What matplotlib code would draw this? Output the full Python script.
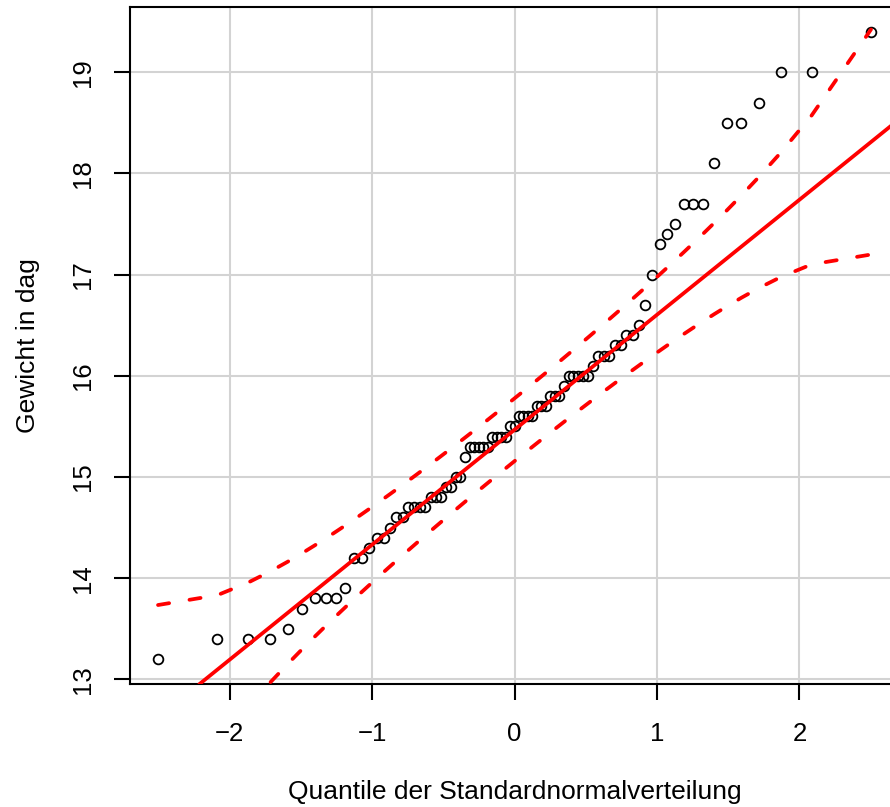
import matplotlib
matplotlib.use('Agg')
import matplotlib.pyplot as plt
import numpy as np
from statistics import NormalDist

plt.rcParams['font.family'] = ['Liberation Sans', 'DejaVu Sans']

# Gewicht in dag, sortiert (81 Werte)
gewicht = [13.2, 13.4, 13.4, 13.4, 13.5, 13.7, 13.8, 13.8, 13.8, 13.9,
           14.2, 14.2, 14.3, 14.4, 14.4, 14.5, 14.6, 14.6,
           14.7, 14.7, 14.7, 14.7, 14.8, 14.8, 14.8, 14.9, 14.9,
           15.0, 15.0, 15.2, 15.3, 15.3, 15.3, 15.3, 15.3,
           15.4, 15.4, 15.4, 15.4, 15.5, 15.5,
           15.6, 15.6, 15.6, 15.6, 15.7, 15.7, 15.7,
           15.8, 15.8, 15.8, 15.9, 16.0, 16.0, 16.0, 16.0, 16.0,
           16.1, 16.2, 16.2, 16.2, 16.3, 16.3, 16.4, 16.4,
           16.5, 16.7, 17.0, 17.3, 17.4, 17.5, 17.7, 17.7, 17.7,
           18.1, 18.5, 18.5, 18.7, 19.0, 19.0, 19.4]
xticks = [-2, -1, 0, 1, 2]
yticks = [13, 14, 15, 16, 17, 18, 19]
konf = 0.95

nd = NormalDist()
y = np.sort(np.array(gewicht))
n = len(y)
P = (np.arange(1, n + 1) - 0.5) / n
z = np.array([nd.inv_cdf(p) for p in P])

# Gerade durch die Quartile
Q = np.quantile(y, [0.25, 0.75], method='median_unbiased')
Qz = np.array([nd.inv_cdf(0.25), nd.inv_cdf(0.75)])
b = (Q[1] - Q[0]) / (Qz[1] - Qz[0])
a = Q[0] - b * Qz[0]

# punktweises Konfidenzband
zz = nd.inv_cdf(1 - (1 - konf) / 2)
dichte = np.array([nd.pdf(v) for v in z])
SE = (b / dichte) * np.sqrt(P * (1 - P) / n)
fit = a + b * z
oben = fit + zz * SE
unten = fit - zz * SE

fig = plt.figure(figsize=(8.9, 8.07), dpi=100)
ax = fig.add_axes([129.5 / 890, (807 - 684.2) / 807, 770 / 890, 677.5 / 807])

xr = z.max() - z.min()
yr = y.max() - y.min()
ax.set_xlim(z.min() - 0.04 * xr, z.max() + 0.04 * xr)
ax.set_ylim(y.min() - 0.04 * yr, y.max() + 0.04 * yr)

ax.set_xticks(xticks)
ax.set_yticks(yticks)
ax.grid(True, color='#d3d3d3', lw=1.5, zorder=0)
ax.set_axisbelow(True)

ax.plot(z, y, 'o', mfc='none', mec='black', ms=7, mew=1.3, zorder=3)
ax.axline((0, a), slope=b, color='red', lw=2.7, solid_capstyle='round', zorder=4)
ax.plot(z, oben, color='red', lw=2.7, dashes=(3.0, 5.5), dash_capstyle='round', zorder=4)
ax.plot(z, unten, color='red', lw=2.7, dashes=(3.0, 5.5), dash_capstyle='round', zorder=4)

for s in ax.spines.values():
    s.set_linewidth(1.5)
ax.tick_params(direction='out', length=11.5, width=1.5, labelsize=18.5, pad=16)
ax.tick_params(axis='y', pad=13)
for lab in ax.get_yticklabels():
    lab.set_rotation(90)
    lab.set_va('center')

ax.set_xlabel('Quantile der Standardnormalverteilung', fontsize=19, labelpad=24)
ax.set_ylabel('Gewicht in dag', fontsize=19, labelpad=23)

fig.savefig('out.png', dpi=100)
